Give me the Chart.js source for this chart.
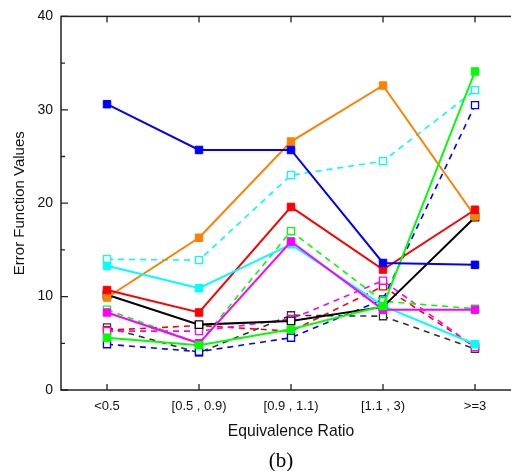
<!DOCTYPE html>
<html>
<head>
<meta charset="utf-8">
<script src="https://cdn.jsdelivr.net/npm/chart.js@4"></script>
<style>
  html, body { margin: 0; padding: 0; background: #fff; overflow: hidden; }
  #wrap { position: relative; width: 560px; height: 471px; }
</style>
</head>
<body>
<div id="wrap"><canvas id="myChart"></canvas></div>
<script>
const categories = ['<0.5', '[0.5 , 0.9)', '[0.9 , 1.1)', '[1.1 , 3)', '>=3'];
const yTicks = [0, 10, 20, 30, 40];

// solid lines
const blueSolid    = [30.6, 25.7, 25.7, 13.6, 13.4];
const orangeSolid  = [9.9, 16.3, 26.6, 32.6, 18.6];
const redSolid     = [10.7, 8.3, 19.6, 12.9, 19.3];
const cyanSolid    = [13.3, 10.9, 15.6, 9.0, 4.9];
const magentaSolid = [8.3, 5.0, 15.9, 8.6, 8.6];
const greenSolid   = [5.6, 4.8, 6.5, 9.0, 34.1];
const blackSolid   = [10.2, 7.0, 7.4, 8.9, 18.5];

// dashed lines, open squares
const cyanDashed    = [14.0, 13.9, 23.0, 24.5, 32.1];
const blueDashed    = [4.9, 4.1, 5.6, 9.7, 30.5];
const greenDashed   = [8.6, 5.0, 17.0, 9.5, 8.7];
const redDashed     = [6.4, 6.9, 6.3, 11.1, 4.6];
const magentaDashed = [6.3, 6.3, 7.6, 11.7, 4.6];
const blackDashed   = [6.7, 4.0, 8.0, 7.9, 4.4];

const FONT = "'Liberation Sans', Arial, sans-serif";

function solid(data, color, fill) {
  return {
    data: data,
    borderColor: color,
    backgroundColor: fill || color,
    pointBackgroundColor: fill || color,
    pointBorderColor: color,
    borderWidth: 2,
    pointStyle: 'rect',
    pointRadius: 5.3,
    pointBorderWidth: fill ? 1.3 : 1,
    tension: 0
  };
}

function dashed(data, color) {
  return {
    data: data,
    borderColor: color,
    backgroundColor: '#fff',
    pointBackgroundColor: '#fff',
    pointBorderColor: color,
    borderWidth: 1.6,
    borderDash: [6, 5],
    pointStyle: 'rect',
    pointRadius: 5.0,
    pointBorderWidth: 1.3,
    tension: 0
  };
}

// box around the plot with inward ticks
const frame = {
  id: 'frame',
  beforeDatasetsDraw(chart) {
    const { ctx, chartArea: a, scales } = chart;
    ctx.save();
    ctx.strokeStyle = '#222';
    ctx.lineWidth = 1.5;
    ctx.strokeRect(a.left, a.top, a.right - a.left, a.bottom - a.top);
    ctx.lineWidth = 1.3;
    ctx.beginPath();
    categories.forEach((c, i) => {
      const x = scales.x.getPixelForValue(i);
      ctx.moveTo(x, a.bottom); ctx.lineTo(x, a.bottom - 6);
      ctx.moveTo(x, a.top); ctx.lineTo(x, a.top + 6);
    });
    for (let v = 0; v <= 40; v += 5) {
      const y = scales.y.getPixelForValue(v);
      const len = v % 10 === 0 ? 7 : 4;
      ctx.moveTo(a.left, y); ctx.lineTo(a.left + len, y);
      ctx.moveTo(a.right, y); ctx.lineTo(a.right - len, y);
    }
    ctx.stroke();
    ctx.restore();
  },
  afterDraw(chart) {
    const ctx = chart.ctx;
    ctx.save();
    ctx.fillStyle = '#000';
    ctx.font = "21px 'Liberation Serif', 'Times New Roman', serif";
    ctx.textAlign = 'center';
    ctx.textBaseline = 'middle';
    ctx.fillText('(b)', 281, 461);
    ctx.restore();
  }
};

const ctx = document.getElementById('myChart').getContext('2d');
const myChart = new Chart(ctx, {
  type: 'line',
  data: {
    labels: categories,
    datasets: [
      solid(blueSolid, '#0000ff'),
      solid(greenSolid, '#00ff00'),
      solid(magentaSolid, '#ff00ff'),
      solid(cyanSolid, '#00ffff'),
      solid(redSolid, '#ff0000'),
      solid(orangeSolid, '#ff8000'),
      solid(blackSolid, '#000000', '#fff'),
      dashed(greenDashed, '#00ff00'),
      dashed(cyanDashed, '#00ffff'),
      dashed(blueDashed, '#0000ff'),
      dashed(magentaDashed, '#ff00ff'),
      dashed(redDashed, '#ff0000'),
      dashed(blackDashed, '#333333')
    ]
  },
  options: {
    responsive: true,
    maintainAspectRatio: false,
    animation: false,
    layout: { padding: { top: 16, right: 39, left: 0, bottom: 0 } },
    plugins: {
      legend: { display: false },
      tooltip: { enabled: false }
    },
    scales: {
      x: {
        offset: true,
        grid: { display: false, drawTicks: false },
        border: { display: false },
        ticks: { color: '#111', padding: 9, font: { family: FONT, size: 13 } },
        title: {
          display: true,
          text: 'Equivalence Ratio',
          color: '#111',
          font: { family: FONT, size: 15.7 },
          padding: { top: 0, bottom: 29.5 }
        },
        afterFit(scale) { scale.height = 81; }
      },
      y: {
        min: 0,
        max: 40,
        grid: { display: false, drawTicks: false },
        border: { display: false },
        afterBuildTicks(scale) { scale.ticks = yTicks.map(v => ({ value: v })); },
        ticks: { color: '#111', padding: 8, font: { family: FONT, size: 14 } },
        title: {
          display: true,
          text: 'Error Function Values',
          color: '#111',
          font: { family: FONT, size: 15 },
          padding: { top: 11, bottom: 0 }
        },
        afterFit(scale) { scale.width = 61; }
      }
    }
  },
  plugins: [frame]
});
</script>
</body>
</html>
